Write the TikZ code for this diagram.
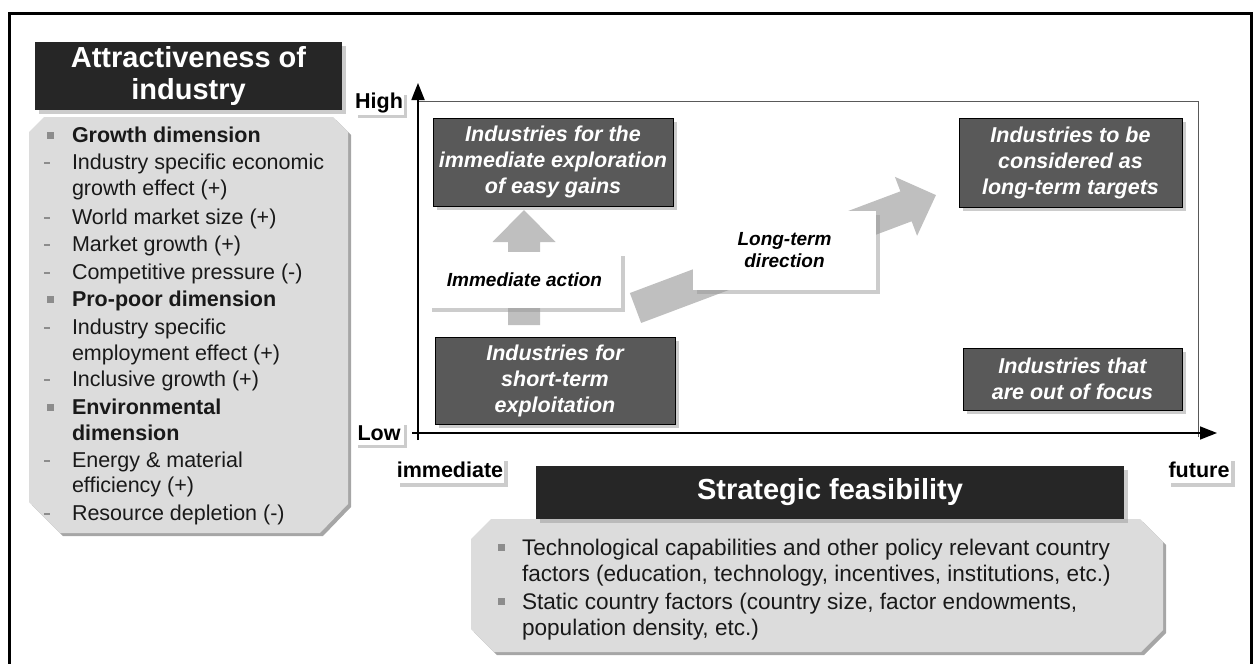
\documentclass[tikz,border=0pt]{standalone}
\usepackage{fontspec}
\setmainfont{Liberation Sans}
\usepackage{xcolor}
\usetikzlibrary{arrows.meta}
\usetikzlibrary{shadows}

\definecolor{boxdark}{HTML}{595959}
\definecolor{boxblack}{HTML}{262626}
\definecolor{panelgray}{HTML}{DCDCDC}
\definecolor{panelshade}{HTML}{A6A6A6}
\definecolor{arrowgray}{HTML}{BFBFBF}
\definecolor{bulletgray}{HTML}{8C8C8C}

%broad grey arrow: start x, start y, angle, length
\newcommand{\blockarrow}[4]{%
	\begin{scope}[shift={(#1,#2)}, rotate=#3]
		\fill[arrowgray] (0,-16) -- (#4-32,-16) -- (#4-32,-31.5) -- (#4,0) -- (#4-32,31.5) -- (#4-32,16) -- (0,16) -- cycle;
	\end{scope}}

\begin{document}
\begin{tikzpicture}[x=0.5pt, y=-0.5pt,
		every node/.style={inner sep=0pt, outer sep=0pt},
		boxshadow/.style={drop shadow={shadow xshift=1.8pt, shadow yshift=-1.8pt, fill=black!40, opacity=0.5}},
		quadrant/.style={boxshadow, draw=black, line width=0.5pt, fill=boxdark, text=white, align=center, font=\fontsize{10.75}{13}\selectfont\bfseries\itshape},
		header/.style={boxshadow, fill=boxblack, text=white, align=center, font=\fontsize{14.5}{16}\selectfont\bfseries},
		axislabel/.style={boxshadow, fill=white, font=\fontsize{10.75}{13}\selectfont\bfseries},
		note/.style={boxshadow, fill=white, align=center, font=\fontsize{9.5}{11}\selectfont\bfseries\itshape},
		item/.style={anchor=base west, text=black!90, font=\fontsize{10.75}{13}\selectfont},
		axisline/.style={-{Triangle[length=8.5pt, width=6.5pt]}}]
		\useasboundingbox (0,0) rectangle (1260,664);
		%
		%frame
		\draw[line width=1.5pt] (9,664) -- (9,13) -- (1251,13) -- (1251,664);
		%
		%left panel
		\fill[panelshade, shift={(3,3)}] (29,132) -- (44,117) -- (333,117) -- (348,132) -- (348,504) -- (320,533) -- (60,533) -- (29,502) -- cycle;
		\fill[panelgray] (29,132) -- (44,117) -- (333,117) -- (348,132) -- (348,504) -- (320,533) -- (60,533) -- (29,502) -- cycle;
		\node[header, minimum width=153.5pt, minimum height=34pt] (attr) at (188.5,76) {Attractiveness of\\industry};
		%
		\foreach \y/\txt in {135/Growth dimension, 299/Pro-poor dimension, 407/Environmental} {
			\fill[bulletgray] (46.5,\y-3.5) rectangle (53.5,\y+3.5);
			\node[item, font=\fontsize{10.75}{13}\selectfont\bfseries] (dim-\y) at (72,\y+7.5) {\txt};
		}
		\node[item, font=\fontsize{10.75}{13}\selectfont\bfseries] (dim-433) at (72,440.5) {dimension};
		\foreach \y/\txt in {162/Industry specific economic, 217/World market size (+), 244/Market growth (+), 272/Competitive pressure (-), 327/Industry specific, 379/Inclusive growth (+), 460/Energy \& material, 513/Resource depletion (-)} {
			\draw[bulletgray, line width=0.7pt] (44,\y+1) -- (50,\y+1);
			\node[item] (crit-\y) at (72,\y+7.5) {\txt};
		}
		\foreach \y/\txt in {188/growth effect (+), 353/employment effect (+), 485/efficiency (+)}
			\node[item] (crit-\y) at (72,\y+7.5) {\txt};
		%
		%bottom panel
		\fill[panelshade, shift={(3,3)}] (471,539) -- (491,519) -- (1140,519) -- (1163,542) -- (1163,630) -- (1141,652) -- (494,652) -- (471,629) -- cycle;
		\fill[panelgray] (471,539) -- (491,519) -- (1140,519) -- (1163,542) -- (1163,630) -- (1141,652) -- (494,652) -- (471,629) -- cycle;
		\node[header, minimum width=294pt, minimum height=26.5pt] (feas) at (830,492.5) {Strategic feasibility};
		%
		\fill[bulletgray] (497.5,543.5) rectangle (504.5,550.5);
		\fill[bulletgray] (497.5,597.5) rectangle (504.5,604.5);
		\node[item, font=\fontsize{11.3}{13}\selectfont] (fac-1) at (522,555) {Technological capabilities and other policy relevant country};
		\node[item, font=\fontsize{11.3}{13}\selectfont] (fac-2) at (522,581) {factors (education, technology, incentives, institutions, etc.)};
		\node[item, font=\fontsize{11.3}{13}\selectfont] (fac-3) at (522,609) {Static country factors (country size, factor endowments,};
		\node[item, font=\fontsize{11.3}{13}\selectfont] (fac-4) at (522,635) {population density, etc.)};
		%
		%plot area and axes
		\draw[gray!70!black, line width=0.5pt] (418,101) -- (1198,101) -- (1198,437);
		\coordinate (ybot) at (418,440);
		\coordinate (ytop) at (418,83);
		\coordinate (xleft) at (412,433);
		\coordinate (xright) at (1217,433);
		\draw[axisline, line width=0.9pt] (ybot) -- (ytop);
		\draw[axisline, line width=0.75pt] (xleft) -- (xright);
		\node[axislabel, minimum width=24.5pt, minimum height=11.5pt] (high) at (379,103) {High};
		\node[axislabel, minimum width=24.5pt, minimum height=11.5pt] (low) at (379,433) {Low};
		\node[axislabel, minimum width=54pt, minimum height=13pt] (now) at (450,470) {immediate};
		\node[axislabel, minimum width=32pt, minimum height=13pt] (later) at (1199,470) {future};
		%
		%grey arrows
		\blockarrow{524}{325}{90}{115}
		\blockarrow{635.5}{308}{20.6}{321}
		%
		%quadrants
		\node[quadrant, minimum width=120pt, minimum height=44pt] (easy) at (553,162) {Industries for the\\immediate exploration\\of easy gains};
		\node[quadrant, minimum width=120pt, minimum height=43.5pt] (short) at (555,380.5) {Industries for\\short-term\\exploitation};
		\node[quadrant, minimum width=111.5pt, minimum height=44.5pt] (target) at (1070.5,162.5) {Industries to be\\considered as\\long-term targets};
		\node[quadrant, minimum width=109.5pt, minimum height=31pt] (outfocus) at (1072.5,379) {Industries that\\are out of focus};
		%
		%arrow labels
		\node[note, minimum width=96.5pt, minimum height=28pt] (act) at (524.5,280) {Immediate action};
		\node[note, minimum width=91.5pt, minimum height=39.5pt] (dir) at (784.5,250.5) {Long-term\\direction};
	\end{tikzpicture}
\end{document}
